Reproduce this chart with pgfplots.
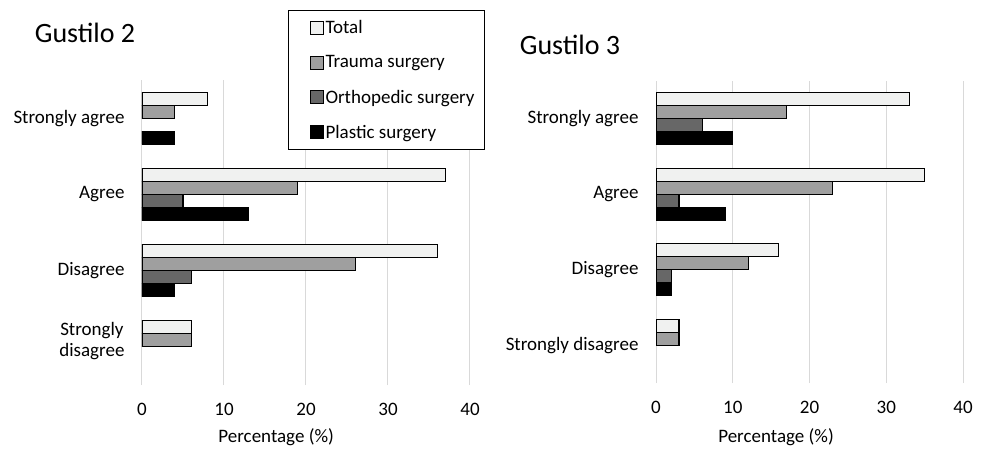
\documentclass[border=0pt]{standalone}
\usepackage{pgfplots}
\pgfplotsset{compat=1.18}
\usepackage{fontspec}
\setmainfont{Carlito}
\definecolor{ctotal}{HTML}{F0F1F0}
\definecolor{ctrauma}{HTML}{9F9F9F}
\definecolor{cortho}{HTML}{676767}
\definecolor{cplastic}{HTML}{000000}
\definecolor{cgrid}{HTML}{D9D9D9}
\pgfplotsset{
 mystyle/.style={
  scale only axis,
  xbar, bar width=13pt,
  legend image code/.code={\path (0pt,0pt); \draw[#1, draw=black, line width=0.8pt] (13pt,-6.5pt) rectangle (26pt,6.5pt);},
  xmin=0, xmax=40, ymin=-0.5, ymax=3.5,
  xtick={0,10,20,30,40},
  xmajorgrids, grid style={cgrid, line width=1pt},
  axis line style={draw=none}, major tick length=0pt,
  tick label style={font=\fontsize{19}{21}\selectfont},
  yticklabel style={align=center, xshift=-14pt},
  xticklabel style={yshift=-15pt},
  /pgf/number format/assume math mode=true,
  label style={font=\fontsize{19}{21}\selectfont},
  xlabel={Percentage (\%)},
  every axis plot/.append style={draw=black, line width=1.1pt},
 },
}
\begin{document}
\begin{tikzpicture}[x=1pt,y=1pt]
\path[use as bounding box] (0pt,0pt) rectangle (986pt,451pt);
\node[font=\fontsize{28}{32}\selectfont] at (85pt,418pt) {Gustilo 2};
\node[font=\fontsize{28}{32}\selectfont] at (570pt,406pt) {Gustilo 3};
\begin{axis}[mystyle, at={(142pt,66pt)}, anchor=south west, width=328pt, height=305pt,
  ytick={1,2,3}, yticklabels={Disagree, Agree, Strongly agree},
  extra y ticks={0}, extra y tick labels={Strongly\\disagree},
  extra y tick style={yticklabel style={yshift=6pt}},
  xlabel style={at={(axis description cs:0.409,0)}, anchor=center, yshift=-52pt},
  legend style={at={(axis description cs:0.445,1.23)}, anchor=north west, draw=black, line width=1.2pt, fill=white,
    font=\fontsize{19}{21}\selectfont, row sep=16.5pt, inner xsep=8pt, inner ysep=8pt},
  legend cell align=left]
\addplot[fill=ctotal, bar shift=19.5pt] coordinates {(8,3) (37,2) (36,1) (6,0)};
\addplot[fill=ctrauma, bar shift=6.5pt] coordinates {(4,3) (19,2) (26,1) (6,0)};
\addplot[fill=cortho, bar shift=-6.5pt] coordinates {(5,2) (6,1)};
\addplot[fill=cplastic, bar shift=-19.5pt] coordinates {(4,3) (13,2) (4,1)};
\legend{Total, Trauma surgery, Orthopedic surgery, Plastic surgery}
\end{axis}
\begin{axis}[mystyle, at={(656pt,68pt)}, anchor=south west, width=307pt, height=302pt,
  ytick={0,1,2,3}, yticklabels={Strongly disagree, Disagree, Agree, Strongly agree},
  xlabel style={at={(axis description cs:0.391,0)}, anchor=center, yshift=-54pt}]
\addplot[fill=ctotal, bar shift=19.5pt] coordinates {(33,3) (35,2) (16,1) (3,0)};
\addplot[fill=ctrauma, bar shift=6.5pt] coordinates {(17,3) (23,2) (12,1) (3,0)};
\addplot[fill=cortho, bar shift=-6.5pt] coordinates {(6,3) (3,2) (2,1)};
\addplot[fill=cplastic, bar shift=-19.5pt] coordinates {(10,3) (9,2) (2,1)};
\end{axis}
\end{tikzpicture}
\end{document}
